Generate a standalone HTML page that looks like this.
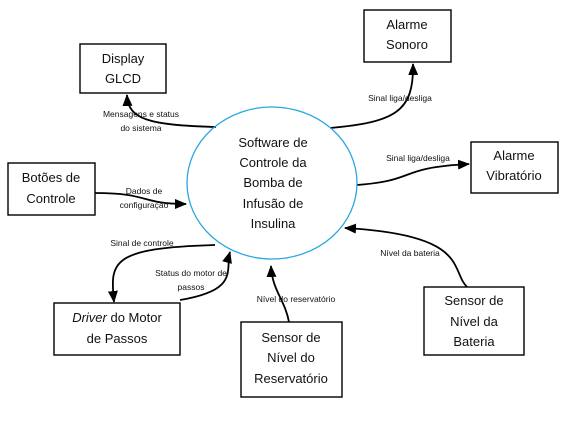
<!DOCTYPE html>
<html><head><meta charset="utf-8"><style>
body{margin:0;background:#fff;width:572px;height:421px;overflow:hidden}
svg{display:block}
text{font-family:"Liberation Sans",sans-serif}
.b{font-size:13px;fill:#111}
.l{font-size:8.5px;fill:#111}
</style></head><body>
<svg width="572" height="421" viewBox="0 0 572 421">
<defs><marker id="a" markerWidth="12" markerHeight="10" refX="11" refY="5" orient="auto" markerUnits="userSpaceOnUse"><path d="M0,0 L12,5 L0,10 z" fill="#000"/></marker></defs>
<g fill="none" stroke="#000" stroke-width="1.8">
<rect x="80" y="44" width="86" height="49" stroke-width="1.4"/>
<rect x="364" y="10" width="87" height="52" stroke-width="1.4"/>
<rect x="471" y="142" width="87" height="51" stroke-width="1.4"/>
<rect x="8" y="163" width="87" height="52" stroke-width="1.4"/>
<rect x="54" y="303" width="126" height="52" stroke-width="1.4"/>
<rect x="241" y="322" width="101" height="75" stroke-width="1.4"/>
<rect x="424" y="287" width="100" height="68" stroke-width="1.4"/>
<path d="M216,127 C150,125 128,120 127,95" marker-end="url(#a)"/>
<path d="M330,128 C395,122 414,112 413,64" marker-end="url(#a)"/>
<path d="M357,185 C420,180 395,168 469,164" marker-end="url(#a)"/>
<path d="M95,193 C150,193 140,204 186,204" marker-end="url(#a)"/>
<path d="M215,245 C110,248 110,262 114,302" marker-end="url(#a)"/>
<path d="M180,300 C240,290 225,270 230,252" marker-end="url(#a)"/>
<path d="M289,322 C285,300 272,290 271,266" marker-end="url(#a)"/>
<path d="M467,287 C450,270 470,235 345,228" marker-end="url(#a)"/>
</g>
<ellipse cx="272" cy="183" rx="85" ry="76" fill="none" stroke="#29a8e0" stroke-width="1.3"/>
<g class="b" text-anchor="middle">
<text x="123" y="63">Display</text><text x="123" y="83">GLCD</text>
<text x="407" y="29">Alarme</text><text x="407" y="49">Sonoro</text>
<text x="514" y="160">Alarme</text><text x="514" y="180">Vibratório</text>
<text x="51" y="182">Botões de</text><text x="51" y="203">Controle</text>
<text x="117" y="322"><tspan font-style="italic">Driver</tspan> do Motor</text><text x="117" y="343">de Passos</text>
<text x="291" y="342">Sensor de</text><text x="291" y="362">Nível do</text><text x="291" y="383">Reservatório</text>
<text x="474" y="305">Sensor de</text><text x="474" y="326">Nível da</text><text x="474" y="346">Bateria</text>
<text x="273" y="147">Software de</text><text x="273" y="167">Controle da</text><text x="273" y="187">Bomba de</text><text x="273" y="208">Infusão de</text><text x="273" y="228">Insulina</text>
</g>
<g class="l" text-anchor="middle">
<text x="141" y="117">Mensagens  e status</text><text x="141" y="131">do sistema</text>
<text x="400" y="101">Sinal liga/desliga</text>
<text x="418" y="161">Sinal liga/desliga</text>
<text x="144" y="194">Dados de</text><text x="144" y="208">configuração</text>
<text x="142" y="246">Sinal de controle</text>
<text x="191" y="276">Status do motor de</text><text x="191" y="290">passos</text>
<text x="296" y="302">Nível do reservatório</text>
<text x="410" y="256">Nível da bateria</text>
</g>
</svg>
</body></html>
